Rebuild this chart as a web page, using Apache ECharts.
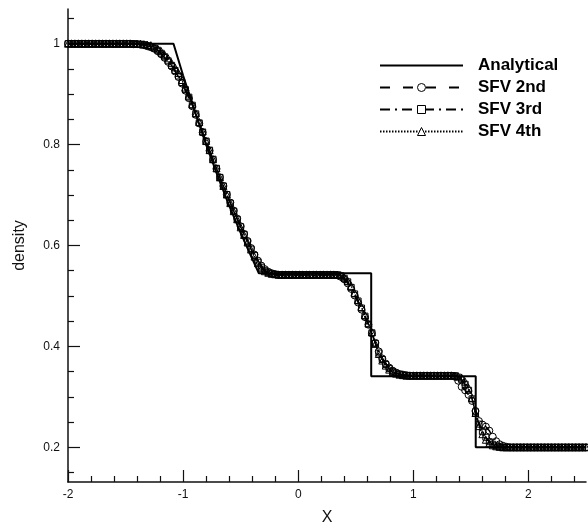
<!DOCTYPE html>
<html>
<head>
<meta charset="utf-8">
<script src="https://cdn.jsdelivr.net/npm/echarts@6/dist/echarts.min.js"></script>
<style>
  html, body { margin: 0; padding: 0; background: #fff; }
  #chart { width: 588px; height: 523px; }
</style>
</head>
<body>
<div id="chart"></div>
<script>
// Shock-tube density profile: exact solution and three SFV schemes.

// Sample positions shared by the numerical solutions
const xs = [
  -2.00,-1.97,-1.94,-1.91,-1.88,-1.85,-1.82,-1.79,-1.76,-1.73,
  -1.70,-1.67,-1.64,-1.61,-1.58,-1.55,-1.52,-1.49,-1.46,-1.43,
  -1.40,-1.37,-1.34,-1.31,-1.28,-1.25,-1.22,-1.19,-1.16,-1.13,
  -1.10,-1.07,-1.04,-1.01,-0.98,-0.95,-0.92,-0.89,-0.86,-0.83,
  -0.80,-0.77,-0.74,-0.71,-0.68,-0.65,-0.62,-0.59,-0.56,-0.53,
  -0.50,-0.47,-0.44,-0.41,-0.38,-0.35,-0.32,-0.29,-0.26,-0.23,
  -0.20,-0.17,-0.14,-0.11,-0.08,-0.05,-0.02,0.01,0.04,0.07,
  0.10,0.13,0.16,0.19,0.22,0.25,0.28,0.31,0.34,0.37,
  0.40,0.43,0.46,0.49,0.52,0.55,0.58,0.61,0.64,0.67,
  0.70,0.73,0.76,0.79,0.82,0.85,0.88,0.91,0.94,0.97,
  1.00,1.03,1.06,1.09,1.12,1.15,1.18,1.21,1.24,1.27,
  1.30,1.33,1.36,1.39,1.42,1.45,1.48,1.51,1.54,1.57,
  1.60,1.63,1.66,1.69,1.72,1.75,1.78,1.81,1.84,1.87,
  1.90,1.93,1.96,1.99,2.02,2.05,2.08,2.11,2.14,2.17,
  2.20,2.23,2.26,2.29,2.32,2.35,2.38,2.41,2.44,2.47,
  2.50
];

const sfv2 = [
  1.000,1.000,1.000,1.000,1.000,1.000,1.000,1.000,1.000,1.000,
  1.000,1.000,1.000,1.000,1.000,1.000,1.000,1.000,1.000,0.999,
  0.999,0.998,0.997,0.995,0.993,0.990,0.985,0.979,0.972,0.964,
  0.955,0.945,0.934,0.921,0.907,0.892,0.876,0.859,0.842,0.824,
  0.806,0.788,0.770,0.752,0.735,0.718,0.701,0.685,0.669,0.653,
  0.638,0.623,0.609,0.595,0.582,0.570,0.560,0.553,0.548,0.545,
  0.543,0.542,0.542,0.542,0.542,0.542,0.542,0.542,0.542,0.542,
  0.542,0.542,0.542,0.542,0.542,0.542,0.542,0.542,0.541,0.538,
  0.533,0.525,0.514,0.501,0.487,0.473,0.458,0.443,0.426,0.407,
  0.390,0.376,0.366,0.358,0.352,0.348,0.345,0.344,0.343,0.342,
  0.342,0.342,0.342,0.342,0.342,0.342,0.342,0.342,0.342,0.342,
  0.342,0.342,0.340,0.332,0.320,0.313,0.304,0.292,0.272,0.252,
  0.245,0.241,0.233,0.221,0.212,0.206,0.203,0.201,0.200,0.200,
  0.200,0.200,0.200,0.200,0.200,0.200,0.200,0.200,0.200,0.200,
  0.200,0.200,0.200,0.200,0.200,0.200,0.200,0.200,0.200,0.200,
  0.200
];

const sfv3 = [
  1.000,1.000,1.000,1.000,1.000,1.000,1.000,1.000,1.000,1.000,
  1.000,1.000,1.000,1.000,1.000,1.000,1.000,1.000,1.000,1.000,
  0.999,0.999,0.998,0.996,0.994,0.991,0.987,0.981,0.974,0.966,
  0.957,0.947,0.936,0.923,0.909,0.894,0.878,0.861,0.843,0.825,
  0.807,0.789,0.771,0.753,0.735,0.718,0.701,0.684,0.668,0.652,
  0.637,0.622,0.607,0.593,0.580,0.567,0.557,0.550,0.546,0.544,
  0.543,0.542,0.542,0.542,0.542,0.542,0.542,0.542,0.542,0.542,
  0.542,0.542,0.542,0.542,0.542,0.542,0.542,0.542,0.542,0.540,
  0.535,0.528,0.517,0.504,0.490,0.476,0.460,0.444,0.427,0.406,
  0.387,0.374,0.364,0.356,0.350,0.347,0.345,0.343,0.342,0.342,
  0.342,0.342,0.342,0.342,0.342,0.342,0.342,0.342,0.342,0.342,
  0.342,0.342,0.342,0.339,0.334,0.325,0.313,0.296,0.270,0.246,
  0.231,0.220,0.211,0.206,0.203,0.201,0.200,0.200,0.200,0.200,
  0.200,0.200,0.200,0.200,0.200,0.200,0.200,0.200,0.200,0.200,
  0.200,0.200,0.200,0.200,0.200,0.200,0.200,0.200,0.200,0.200,
  0.200
];

const sfv4 = [
  1.000,1.000,1.000,1.000,1.000,1.000,1.000,1.000,1.000,1.000,
  1.000,1.000,1.000,1.000,1.000,1.000,1.000,1.000,1.000,1.000,
  1.000,1.000,0.999,0.998,0.997,0.994,0.990,0.985,0.978,0.971,
  0.962,0.953,0.942,0.928,0.913,0.897,0.880,0.862,0.845,0.826,
  0.807,0.789,0.771,0.753,0.735,0.718,0.701,0.684,0.668,0.652,
  0.636,0.621,0.606,0.592,0.578,0.565,0.555,0.549,0.546,0.544,
  0.543,0.542,0.542,0.542,0.542,0.542,0.542,0.542,0.542,0.542,
  0.542,0.542,0.542,0.542,0.542,0.542,0.542,0.542,0.542,0.541,
  0.537,0.530,0.520,0.506,0.492,0.478,0.462,0.446,0.428,0.405,
  0.385,0.372,0.362,0.354,0.349,0.346,0.344,0.343,0.342,0.342,
  0.342,0.342,0.342,0.342,0.342,0.342,0.342,0.342,0.342,0.342,
  0.342,0.342,0.342,0.341,0.338,0.330,0.318,0.298,0.268,0.242,
  0.226,0.215,0.208,0.204,0.202,0.201,0.200,0.200,0.200,0.200,
  0.200,0.200,0.200,0.200,0.200,0.200,0.200,0.200,0.200,0.200,
  0.200,0.200,0.200,0.200,0.200,0.200,0.200,0.200,0.200,0.200,
  0.200
];

// Exact solution: rarefaction fan, contact discontinuity, shock
const exactX = [-2.0, -1.0835, -1.0, -0.9, -0.8, -0.75, -0.7, -0.6, -0.5, -0.4, -0.342, 0.634, 0.634, 1.542, 1.542, 2.5];
const exactY = [1.0, 1.0, 0.937, 0.867, 0.800, 0.769, 0.738, 0.679, 0.625, 0.574, 0.545, 0.545, 0.341, 0.341, 0.200, 0.200];

// Axis ticks
const xMajor = [-2, -1, 0, 1, 2];
const xMinor = [-1.8, -1.6, -1.4, -1.2, -0.8, -0.6, -0.4, -0.2, 0.2, 0.4, 0.6, 0.8, 1.2, 1.4, 1.6, 1.8, 2.2, 2.4];
const yMajor = [0.2, 0.4, 0.6, 0.8, 1.0];
const yMinor = [0.15, 0.25, 0.3, 0.35, 0.45, 0.5, 0.55, 0.65, 0.7, 0.75, 0.85, 0.9, 0.95, 1.05];

const FONT = 'Liberation Sans, Arial, Helvetica, sans-serif';
const INK = '#111';

const pairs = (a, b) => a.map((v, i) => [v, b[i]]);

const chart = echarts.init(document.getElementById('chart'), null, { renderer: 'canvas' });

const axisLineStyle = { color: INK, width: 1.5 };
const tickStyle = { color: INK, width: 1.2 };

// Hollow markers: outlines only, so overlapping symbols build a dark band
const numericSeries = (name, data, symbol, dash, size) => ({
  name,
  type: 'line',
  data,
  symbol,
  symbolSize: size,
  showAllSymbol: true,
  xAxisIndex: 0,
  yAxisIndex: 0,
  itemStyle: { color: 'rgba(255,255,255,0)', borderColor: '#000', borderWidth: 1 },
  lineStyle: { color: '#000', width: 1.5, type: dash },
  emphasis: { disabled: true },
  z: 2
});

const legendMarker = { color: '#fff', borderColor: '#000', borderWidth: 1 };

chart.setOption({
  animation: false,
  backgroundColor: '#fff',
  grid: { left: 68, right: 2, top: 9, bottom: 41, containLabel: false, outerBoundsMode: 'none' },
  legend: {
    orient: 'vertical',
    left: 379,
    top: 57,
    padding: 0,
    itemWidth: 83,
    itemHeight: 10,
    itemGap: 5,
    selectedMode: false,
    textStyle: { fontSize: 17, fontWeight: 'bold', color: '#000', fontFamily: FONT, padding: [0, 0, 0, 10] },
    data: [
      { name: 'Analytical', itemStyle: { color: 'rgba(0,0,0,0)', borderWidth: 0 } },
      { name: 'SFV 2nd', itemStyle: legendMarker },
      { name: 'SFV 3rd', itemStyle: legendMarker },
      { name: 'SFV 4th', itemStyle: legendMarker }
    ]
  },
  xAxis: [
    {
      type: 'value', min: -2, max: 2.5, position: 'bottom',
      name: 'X', nameLocation: 'middle', nameGap: 28,
      nameTextStyle: { fontSize: 16, color: INK, fontFamily: FONT },
      axisLine: { show: true, onZero: false, lineStyle: axisLineStyle },
      axisTick: { show: true, inside: true, length: 12, customValues: xMajor, lineStyle: tickStyle },
      axisLabel: { customValues: xMajor, margin: 7, fontSize: 12, color: INK, fontFamily: FONT },
      splitLine: { show: false }
    },
    {
      type: 'value', min: -2, max: 2.5, position: 'bottom', offset: 0,
      axisLine: { show: false, onZero: false },
      axisTick: { show: true, inside: true, length: 6, customValues: xMinor, lineStyle: tickStyle },
      axisLabel: { show: false },
      splitLine: { show: false }
    }
  ],
  yAxis: [
    {
      type: 'value', min: 0.13125, max: 1.06875, position: 'left',
      name: 'density', nameLocation: 'middle', nameGap: 40,
      nameTextStyle: { fontSize: 16, color: INK, fontFamily: FONT },
      axisLine: { show: true, onZero: false, lineStyle: axisLineStyle },
      axisTick: { show: true, inside: true, length: 12, customValues: yMajor, lineStyle: tickStyle },
      axisLabel: { customValues: yMajor, margin: 8, fontSize: 12, color: INK, fontFamily: FONT },
      splitLine: { show: false }
    },
    {
      type: 'value', min: 0.13125, max: 1.06875, position: 'left', offset: 0,
      axisLine: { show: false, onZero: false },
      axisTick: { show: true, inside: true, length: 6, customValues: yMinor, lineStyle: tickStyle },
      axisLabel: { show: false },
      splitLine: { show: false }
    }
  ],
  series: [
    {
      name: 'Analytical',
      type: 'line',
      data: pairs(exactX, exactY),
      symbol: 'none',
      lineStyle: { color: '#000', width: 2, type: 'solid' },
      itemStyle: { color: '#000' },
      emphasis: { disabled: true },
      z: 5
    },
    numericSeries('SFV 2nd', pairs(xs, sfv2), 'circle', [10, 13], 7),
    numericSeries('SFV 3rd', pairs(xs, sfv3), 'rect', [10, 5, 2, 5], 6),
    numericSeries('SFV 4th', pairs(xs, sfv4), 'triangle', [1.5, 1.5], 7)
  ]
});
</script>
</body>
</html>
